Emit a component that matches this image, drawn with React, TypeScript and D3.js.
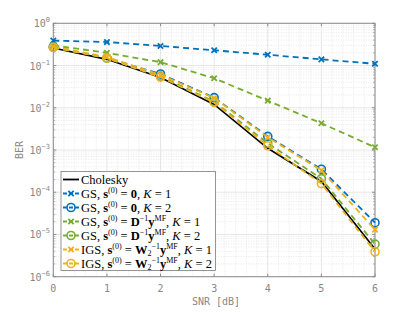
import React, { useEffect, useRef } from 'react'
import * as d3 from 'd3'

// SNR points and BER curves
const snr = [0, 1, 2, 3, 4, 5, 6]
const cholesky = [0.26, 0.14, 0.052, 0.012, 0.0011, 1.8e-4, 4.5e-6]
const gsZeroK1 = [0.39, 0.36, 0.29, 0.23, 0.18, 0.14, 0.11]
const gsZeroK2 = [0.28, 0.15, 0.063, 0.0174, 0.0021, 3.5e-4, 1.9e-5]
const gsDK1 = [0.3, 0.2, 0.12, 0.05, 0.0147, 0.0043, 0.00116]
const gsDK2 = [0.27, 0.15, 0.056, 0.014, 0.00144, 2.1e-4, 5.9e-6]
const igsK1 = [0.28, 0.16, 0.06, 0.017, 0.002, 3.3e-4, 1.3e-5]
const igsK2 = [0.27, 0.15, 0.053, 0.0134, 0.00126, 1.6e-4, 3.9e-6]

const xTicks = [0, 1, 2, 3, 4, 5, 6]
const yExponents = [0, -1, -2, -3, -4, -5, -6]

type Seg = { t: string; b?: boolean; i?: boolean; sup?: boolean; sub?: boolean }

const s0: Seg[] = [{ t: 's', b: true }, { t: '(0)', sup: true }, { t: ' = ' }]
const dInv: Seg[] = [{ t: 'D', b: true }, { t: '−1', sup: true }, { t: 'y', b: true }, { t: 'MF', sup: true }]
const wInv: Seg[] = [{ t: 'W', b: true }, { t: '2', sub: true }, { t: '−1', sup: true }, { t: 'y', b: true }, { t: 'MF', sup: true }]
const kEq = (k: number): Seg[] => [{ t: ', ' }, { t: 'K', i: true }, { t: ' = ' + k }]

const series = [
  { label: [{ t: 'Cholesky' }] as Seg[], data: cholesky, color: '#000000', dash: null, marker: 'none' },
  { label: [{ t: 'GS, ' }, ...s0, { t: '0', b: true }, ...kEq(1)], data: gsZeroK1, color: '#0072BD', dash: '6,4', marker: 'x' },
  { label: [{ t: 'GS, ' }, ...s0, { t: '0', b: true }, ...kEq(2)], data: gsZeroK2, color: '#0072BD', dash: '6,4', marker: 'o' },
  { label: [{ t: 'GS, ' }, ...s0, ...dInv, ...kEq(1)], data: gsDK1, color: '#77AC30', dash: '6,4', marker: 'x' },
  { label: [{ t: 'GS, ' }, ...s0, ...dInv, ...kEq(2)], data: gsDK2, color: '#77AC30', dash: '6,4', marker: 'o' },
  { label: [{ t: 'IGS, ' }, ...s0, ...wInv, ...kEq(1)], data: igsK1, color: '#EDB120', dash: '6,4', marker: 'x' },
  { label: [{ t: 'IGS, ' }, ...s0, ...wInv, ...kEq(2)], data: igsK2, color: '#EDB120', dash: '6,4', marker: 'o' },
]

const W = 415, H = 312
const left = 53.3, right = 375, top = 23.3, bottom = 276.7
const mono = 'DejaVu Sans Mono'
const serif = 'Liberation Serif'
const axisGrey = '#8c8c8c'

export default function App() {
  const ref = useRef<SVGSVGElement>(null)

  useEffect(() => {
    const svg = d3.select(ref.current)
    svg.selectAll('*').remove()

    const x = d3.scaleLinear().domain([0, 6]).range([left, right])
    const y = d3.scaleLog().domain([1e-6, 1]).range([bottom, top])

    const g = svg.append('g')

    // minor grid
    const minorY: number[] = []
    for (let e = -6; e < 0; e++) for (let m = 2; m <= 9; m++) minorY.push(m * Math.pow(10, e))
    const minorX = d3.range(0, 6.0001, 0.2).filter(v => Math.abs(v - Math.round(v)) > 1e-6)
    g.selectAll('.my').data(minorY).enter().append('line')
      .attr('x1', left).attr('x2', right).attr('y1', d => y(d)).attr('y2', d => y(d))
      .attr('stroke', '#d9d9d9').attr('stroke-width', 0.6).attr('stroke-dasharray', '1,1.5')
    g.selectAll('.mx').data(minorX).enter().append('line')
      .attr('y1', top).attr('y2', bottom).attr('x1', d => x(d)).attr('x2', d => x(d))
      .attr('stroke', '#d9d9d9').attr('stroke-width', 0.6).attr('stroke-dasharray', '1,1.5')

    // major grid
    g.selectAll('.gy').data(yExponents).enter().append('line')
      .attr('x1', left).attr('x2', right).attr('y1', d => y(Math.pow(10, d))).attr('y2', d => y(Math.pow(10, d)))
      .attr('stroke', '#e6e6e6').attr('stroke-width', 1)
    g.selectAll('.gx').data(xTicks).enter().append('line')
      .attr('y1', top).attr('y2', bottom).attr('x1', d => x(d)).attr('x2', d => x(d))
      .attr('stroke', '#e6e6e6').attr('stroke-width', 1)

    // axes box + ticks
    g.append('rect').attr('x', left).attr('y', top).attr('width', right - left).attr('height', bottom - top)
      .attr('fill', 'none').attr('stroke', axisGrey).attr('stroke-width', 1)
    xTicks.forEach(t => {
      g.append('line').attr('x1', x(t)).attr('x2', x(t)).attr('y1', bottom).attr('y2', bottom - 3).attr('stroke', axisGrey)
      g.append('line').attr('x1', x(t)).attr('x2', x(t)).attr('y1', top).attr('y2', top + 3).attr('stroke', axisGrey)
    })
    minorY.forEach(v => {
      g.append('line').attr('x1', left).attr('x2', left + 2).attr('y1', y(v)).attr('y2', y(v)).attr('stroke', axisGrey).attr('stroke-width', 0.6)
      g.append('line').attr('x1', right).attr('x2', right - 2).attr('y1', y(v)).attr('y2', y(v)).attr('stroke', axisGrey).attr('stroke-width', 0.6)
    })
    yExponents.forEach(e => {
      g.append('line').attr('x1', left).attr('x2', left + 3).attr('y1', y(Math.pow(10, e))).attr('y2', y(Math.pow(10, e))).attr('stroke', axisGrey)
      g.append('line').attr('x1', right).attr('x2', right - 3).attr('y1', y(Math.pow(10, e))).attr('y2', y(Math.pow(10, e))).attr('stroke', axisGrey)
    })

    // tick labels
    xTicks.forEach(t => {
      g.append('text').attr('x', x(t)).attr('y', 292).attr('text-anchor', 'middle')
        .attr('font-family', mono).attr('font-size', 10).attr('fill', '#888').text(String(t))
    })
    yExponents.forEach(e => {
      const tx = g.append('text').attr('x', 50).attr('y', y(Math.pow(10, e)) + 4).attr('text-anchor', 'end')
        .attr('font-family', mono).attr('font-size', 10).attr('fill', '#888')
      tx.append('tspan').text('10')
      tx.append('tspan').attr('font-size', 7).attr('dy', -5).text(e === 0 ? '0' : '−' + (-e))
    })
    g.append('text').attr('x', 216).attr('y', 305).attr('text-anchor', 'middle')
      .attr('font-family', mono).attr('font-size', 10).attr('fill', '#888').text('SNR [dB]')
    g.append('text').attr('transform', 'translate(23,150) rotate(-90)').attr('text-anchor', 'middle')
      .attr('font-family', mono).attr('font-size', 10).attr('fill', '#888').text('BER')

    // curves
    const line = d3.line<number>().x((_, i) => x(snr[i])).y(d => y(d))
    const drawMarker = (sel: any, kind: string, cx: number, cy: number, color: string) => {
      if (kind === 'o') {
        sel.append('circle').attr('cx', cx).attr('cy', cy).attr('r', 4)
          .attr('fill', 'none').attr('stroke', color).attr('stroke-width', 1.6)
      } else if (kind === 'x') {
        const r = 2.7
        sel.append('path').attr('d', `M${cx - r},${cy - r}L${cx + r},${cy + r}M${cx - r},${cy + r}L${cx + r},${cy - r}`)
          .attr('stroke', color).attr('stroke-width', 1.8)
      }
    }
    series.forEach(s => {
      g.append('path').attr('d', line(s.data)).attr('fill', 'none').attr('stroke', s.color)
        .attr('stroke-width', s.dash ? 1.8 : 1.6).attr('stroke-dasharray', s.dash)
      s.data.forEach((v, i) => drawMarker(g, s.marker, x(snr[i]), y(v), s.color))
    })

    // legend
    const lg = svg.append('g')
    const lx = 61, ly = 171.5, lw = 154.5, rowH = 14
    lg.append('rect').attr('x', lx).attr('y', ly).attr('width', lw).attr('height', 99)
      .attr('fill', 'white').attr('stroke', '#7a7a7a').attr('stroke-width', 0.8)
    series.forEach((s, k) => {
      const cy = 179.5 + k * rowH
      lg.append('line').attr('x1', lx + 2).attr('x2', lx + 18).attr('y1', cy).attr('y2', cy)
        .attr('stroke', s.color).attr('stroke-width', 1.8).attr('stroke-dasharray', s.dash ? '4,2' : null)
      drawMarker(lg, s.marker, lx + 10, cy, s.color)
      const tx = lg.append('text').attr('x', lx + 20).attr('y', cy + 4.3)
        .attr('font-family', serif).attr('font-size', 12.5).attr('fill', '#000')
      let shift = 0
      s.label.forEach(seg => {
        const sp = tx.append('tspan').text(seg.t)
        let target = 0
        if (seg.sup) { target = -4.5; sp.attr('font-size', 8) }
        else if (seg.sub) { target = 2.5; sp.attr('font-size', 8) }
        if (target !== shift) { sp.attr('dy', target - shift); shift = target }
        if (seg.b) sp.attr('font-weight', 'bold')
        if (seg.i) sp.attr('font-style', 'italic')
        sp.style('white-space', 'pre')
      })
    })
  }, [])

  return (
    <svg ref={ref} width={W} height={H} style={{ position: 'absolute', left: 0, top: 0, background: 'white' }} />
  )
}
